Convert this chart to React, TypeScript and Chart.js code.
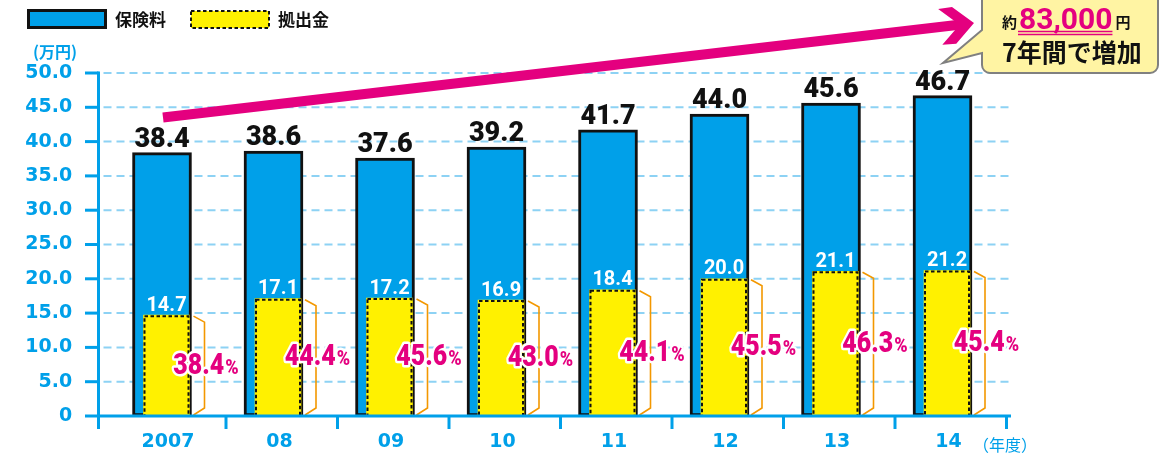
import React, { useEffect, useRef } from 'react';
import { Chart, registerables } from 'chart.js';

Chart.register(...registerables);

// ---- data ----
const categories = ['2007', '08', '09', '10', '11', '12', '13', '14'];
const premiums = [38.4, 38.6, 37.6, 39.2, 41.7, 44.0, 45.6, 46.7];
const contributions = [14.7, 17.1, 17.2, 16.9, 18.4, 20.0, 21.1, 21.2];
const shareLabels = ['38.4', '44.4', '45.6', '43.0', '44.1', '45.5', '46.3', '45.4'];
const seriesNames = ['保険料', '拠出金'];
const yUnit = '(万円)';
const xUnit = '（年度）';
const calloutPrefix = '約';
const calloutAmount = '83,000';
const calloutSuffix = '円';
const calloutLine2 = '7年間で増加';

// ---- styles ----
const BLUE = '#00a0e9';
const YELLOW = '#fff100';
const MAGENTA = '#e4007f';
const ORANGE = '#f39800';
const GRID = '#8dd2f4';
const NUM_FONT = 'Roboto';
const CJK_FONT = '"Noto Sans CJK JP"';
const AXIS_X = 98.5;
const X_END = 1011;
const GRID_END = 1012;

function fmtTick(v: number) {
  return v === 0 ? '0' : v.toFixed(1);
}

const decor = {
  id: 'decor',
  afterDatasetsUpdate(chart: any) {
    const blue = chart.getDatasetMeta(0).data;
    const yel = chart.getDatasetMeta(1).data;
    yel.forEach((el: any, i: number) => {
      const b = blue[i];
      el.x = b.x + b.width / 2 - 2 - el.width / 2;
    });
  },
  beforeDatasetsDraw(chart: any) {
    const { ctx } = chart;
    const y = chart.scales.y;
    ctx.save();
    ctx.strokeStyle = GRID;
    ctx.lineWidth = 2;
    ctx.setLineDash([8, 5]);
    y.ticks.forEach((t: any) => {
      if (t.value <= 0) return;
      const py = y.getPixelForValue(t.value);
      ctx.beginPath();
      ctx.moveTo(AXIS_X + 5, py);
      ctx.lineTo(GRID_END, py);
      ctx.stroke();
    });
    ctx.restore();
  },
  afterDatasetsDraw(chart: any) {
    const { ctx } = chart;
    const y = chart.scales.y;
    const blue = chart.getDatasetMeta(0).data;
    const yel = chart.getDatasetMeta(1).data;
    const y0 = y.getPixelForValue(0);
    const yTop = y.getPixelForValue(50);
    ctx.save();
    // dashed border of contribution bars
    ctx.setLineDash([3.5, 2.5]);
    ctx.lineWidth = 2;
    ctx.strokeStyle = '#111';
    yel.forEach((el: any) => {
      const l = el.x - el.width / 2;
      ctx.strokeRect(l + 1, el.y + 1, el.width - 2, el.base - el.y - 1);
    });
    // brackets
    ctx.setLineDash([]);
    ctx.strokeStyle = ORANGE;
    ctx.lineWidth = 1.6;
    yel.forEach((el: any, i: number) => {
      const bR = blue[i].x + blue[i].width / 2;
      const bx = bR + 13;
      ctx.beginPath();
      ctx.moveTo(bR + 2, el.y + 1);
      ctx.lineTo(bx, el.y + 7);
      ctx.lineTo(bx, el.base - 8);
      ctx.lineTo(bR + 2, el.base - 1);
      ctx.stroke();
    });
    // axes
    ctx.strokeStyle = BLUE;
    ctx.lineWidth = 3;
    ctx.beginPath();
    ctx.moveTo(AXIS_X, yTop - 1.5);
    ctx.lineTo(AXIS_X, y0 + 13);
    ctx.stroke();
    ctx.beginPath();
    ctx.moveTo(AXIS_X - 1.5, y0);
    ctx.lineTo(X_END, y0);
    ctx.stroke();
    y.ticks.forEach((t: any) => {
      const py = y.getPixelForValue(t.value);
      ctx.beginPath();
      ctx.moveTo(85, py);
      ctx.lineTo(AXIS_X, py);
      ctx.stroke();
    });
    blue.forEach((b: any) => {
      const tx = b.x + 64;
      ctx.beginPath();
      ctx.moveTo(tx, y0);
      ctx.lineTo(tx, y0 + 13);
      ctx.stroke();
    });
    // value labels
    ctx.textAlign = 'center';
    ctx.textBaseline = 'alphabetic';
    ctx.fillStyle = '#111';
    ctx.font = `900 27px ${NUM_FONT}`;
    blue.forEach((b: any, i: number) => ctx.fillText(premiums[i].toFixed(1), b.x, b.y - 6));
    ctx.fillStyle = '#fff';
    ctx.font = `bold 20px ${NUM_FONT}`;
    yel.forEach((el: any, i: number) => ctx.fillText(contributions[i].toFixed(1), el.x, el.y - 4.5));
    // percentage labels
    const SX = 0.86;
    ctx.textAlign = 'left';
    yel.forEach((el: any, i: number) => {
      const bR = blue[i].x + blue[i].width / 2;
      const cx = bR + 14.5;
      const mid = (el.y + el.base) / 2;
      const base = mid + 8;
      const num = shareLabels[i];
      const f1 = `900 29px ${NUM_FONT}`;
      const f2 = `900 21px ${NUM_FONT}`;
      ctx.font = f1;
      const w1 = ctx.measureText(num).width * SX;
      ctx.font = f2;
      const w2 = ctx.measureText('%').width * SX;
      const left = cx - (w1 + w2 + 1) / 2;
      const parts = [
        { t: num, f: f1, x: left },
        { t: '%', f: f2, x: left + w1 + 1 },
      ];
      ctx.lineJoin = 'round';
      ctx.lineWidth = 5;
      ctx.strokeStyle = '#fff';
      parts.forEach((p) => {
        ctx.save();
        ctx.translate(p.x, base);
        ctx.scale(SX, 1);
        ctx.font = p.f;
        ctx.strokeText(p.t, 0, 0);
        ctx.restore();
      });
      ctx.fillStyle = MAGENTA;
      parts.forEach((p) => {
        ctx.save();
        ctx.translate(p.x, base);
        ctx.scale(SX, 1);
        ctx.font = p.f;
        ctx.fillText(p.t, 0, 0);
        ctx.restore();
      });
    });
    ctx.restore();
  },
  afterDraw(chart: any) {
    const { ctx } = chart;
    const blue = chart.getDatasetMeta(0).data;
    ctx.save();
    // legend
    ctx.fillStyle = BLUE;
    ctx.fillRect(28.5, 10.5, 77, 17);
    ctx.strokeStyle = '#111';
    ctx.lineWidth = 3;
    ctx.strokeRect(28.5, 10.5, 77, 17);
    ctx.fillStyle = YELLOW;
    ctx.fillRect(191, 11, 78, 17);
    ctx.lineWidth = 2;
    ctx.setLineDash([3.5, 2.5]);
    ctx.strokeRect(191, 11, 78, 17);
    ctx.setLineDash([]);
    ctx.fillStyle = '#111';
    ctx.font = `bold 17px ${CJK_FONT}`;
    ctx.textBaseline = 'middle';
    ctx.textAlign = 'left';
    ctx.fillText(seriesNames[0], 115, 19.5);
    ctx.fillText(seriesNames[1], 278, 19.5);
    // units
    ctx.fillStyle = BLUE;
    ctx.font = `bold 16px ${CJK_FONT}`;
    ctx.textAlign = 'center';
    ctx.fillText(yUnit, 55, 52);
    ctx.font = `16px ${CJK_FONT}`;
    ctx.fillText(xUnit, 1005, 445);

    // arrow
    const b0 = blue[0];
    const sx = b0.x + 1;
    const sy = b0.y - 35;
    const tipX = 974;
    const tipY = 23;
    const ang = Math.atan2(tipY - sy, tipX - sx);
    ctx.strokeStyle = MAGENTA;
    ctx.fillStyle = MAGENTA;
    ctx.lineWidth = 10;
    ctx.lineCap = 'butt';
    ctx.beginPath();
    ctx.moveTo(sx, sy);
    ctx.lineTo(tipX - 13 * Math.cos(ang), tipY - 13 * Math.sin(ang));
    ctx.stroke();
    ctx.save();
    ctx.translate(tipX, tipY);
    ctx.rotate(ang);
    ctx.beginPath();
    ctx.moveTo(0, 0);
    ctx.lineTo(-20, -18.5);
    ctx.lineTo(-34, -18);
    ctx.lineTo(-14.5, 0);
    ctx.lineTo(-34, 18);
    ctx.lineTo(-20, 18.5);
    ctx.closePath();
    ctx.fill();
    ctx.restore();

    // callout
    const L = 982, R = 1158, T = -10, B = 73, r = 8;
    ctx.beginPath();
    ctx.moveTo(L, 30);
    ctx.lineTo(943, 63);
    ctx.lineTo(L, 53);
    ctx.lineTo(L, B - r);
    ctx.arcTo(L, B, L + r, B, r);
    ctx.lineTo(R - r, B);
    ctx.arcTo(R, B, R, B - r, r);
    ctx.lineTo(R, T + r);
    ctx.arcTo(R, T, R - r, T, r);
    ctx.lineTo(L + r, T);
    ctx.arcTo(L, T, L, T + r, r);
    ctx.closePath();
    ctx.fillStyle = '#fff4a3';
    ctx.fill();
    ctx.strokeStyle = '#808080';
    ctx.lineWidth = 2;
    ctx.stroke();

    ctx.textAlign = 'left';
    ctx.textBaseline = 'alphabetic';
    ctx.fillStyle = '#111';
    ctx.font = `bold 15px ${CJK_FONT}`;
    ctx.fillText(calloutPrefix, 1002, 28);
    ctx.fillStyle = MAGENTA;
    ctx.font = `bold 30px ${NUM_FONT}`;
    const aw = ctx.measureText(calloutAmount).width;
    ctx.fillText(calloutAmount, 1019, 29);
    ctx.fillStyle = '#111';
    ctx.font = `bold 15px ${CJK_FONT}`;
    ctx.fillText(calloutSuffix, 1019 + aw + 3, 28);
    ctx.strokeStyle = MAGENTA;
    ctx.lineWidth = 1.3;
    ctx.beginPath();
    ctx.moveTo(1018, 31.5);
    ctx.lineTo(1019 + aw, 31.5);
    ctx.moveTo(1018, 34.5);
    ctx.lineTo(1019 + aw, 34.5);
    ctx.stroke();
    ctx.fillStyle = '#111';
    ctx.font = `bold 25px ${CJK_FONT}`;
    ctx.textBaseline = 'middle';
    ctx.fillText(calloutLine2, 1002, 52);
    ctx.restore();
  },
};

export default function App() {
  const ref = useRef<HTMLCanvasElement>(null);
  useEffect(() => {
    document.body.style.margin = '0';
    document.body.style.overflow = 'hidden';
    const chart = new Chart(ref.current as HTMLCanvasElement, {
      type: 'bar',
      data: {
        labels: categories,
        datasets: [
          {
            label: seriesNames[0],
            data: premiums,
            backgroundColor: BLUE,
            borderColor: '#111',
            borderWidth: 3,
            borderSkipped: false,
            barThickness: 59,
            grouped: false,
            order: 2,
          } as any,
          {
            label: seriesNames[1],
            data: contributions,
            backgroundColor: YELLOW,
            borderWidth: 0,
            barThickness: 46,
            grouped: false,
            order: 1,
          } as any,
        ],
      },
      options: {
        responsive: false,
        animation: false,
        devicePixelRatio: 1,
        events: [],
        layout: { padding: { top: 73, right: 170.75, left: 0, bottom: 0 } },
        plugins: { legend: { display: false }, tooltip: { enabled: false } },
        scales: {
          x: {
            type: 'category',
            offset: true,
            grid: { display: false, drawTicks: false },
            border: { display: false },
            ticks: {
              color: BLUE,
              font: { family: '"DejaVu Sans"', weight: 'bold', size: 19 },
              padding: 15,
              labelOffset: 6,
              maxRotation: 0,
              autoSkip: false,
            },
            afterFit: (s: any) => {
              s.height = 37;
            },
          },
          y: {
            min: 0,
            max: 50,
            grid: { display: false, drawTicks: false },
            border: { display: false },
            ticks: {
              stepSize: 5,
              color: BLUE,
              font: { family: '"DejaVu Sans"', weight: 'bold', size: 19 },
              padding: 34,
              callback: (v: any) => fmtTick(Number(v)),
            },
            afterFit: (s: any) => {
              s.width = 106.25;
              s.paddingTop = 0;
              s.paddingBottom = 0;
            },
          },
        },
      } as any,
      plugins: [decor],
    });
    return () => chart.destroy();
  }, []);
  return (
    <div style={{ width: 1169, height: 453 }}>
      <canvas ref={ref} width={1169} height={453} style={{ display: 'block' }} />
    </div>
  );
}
